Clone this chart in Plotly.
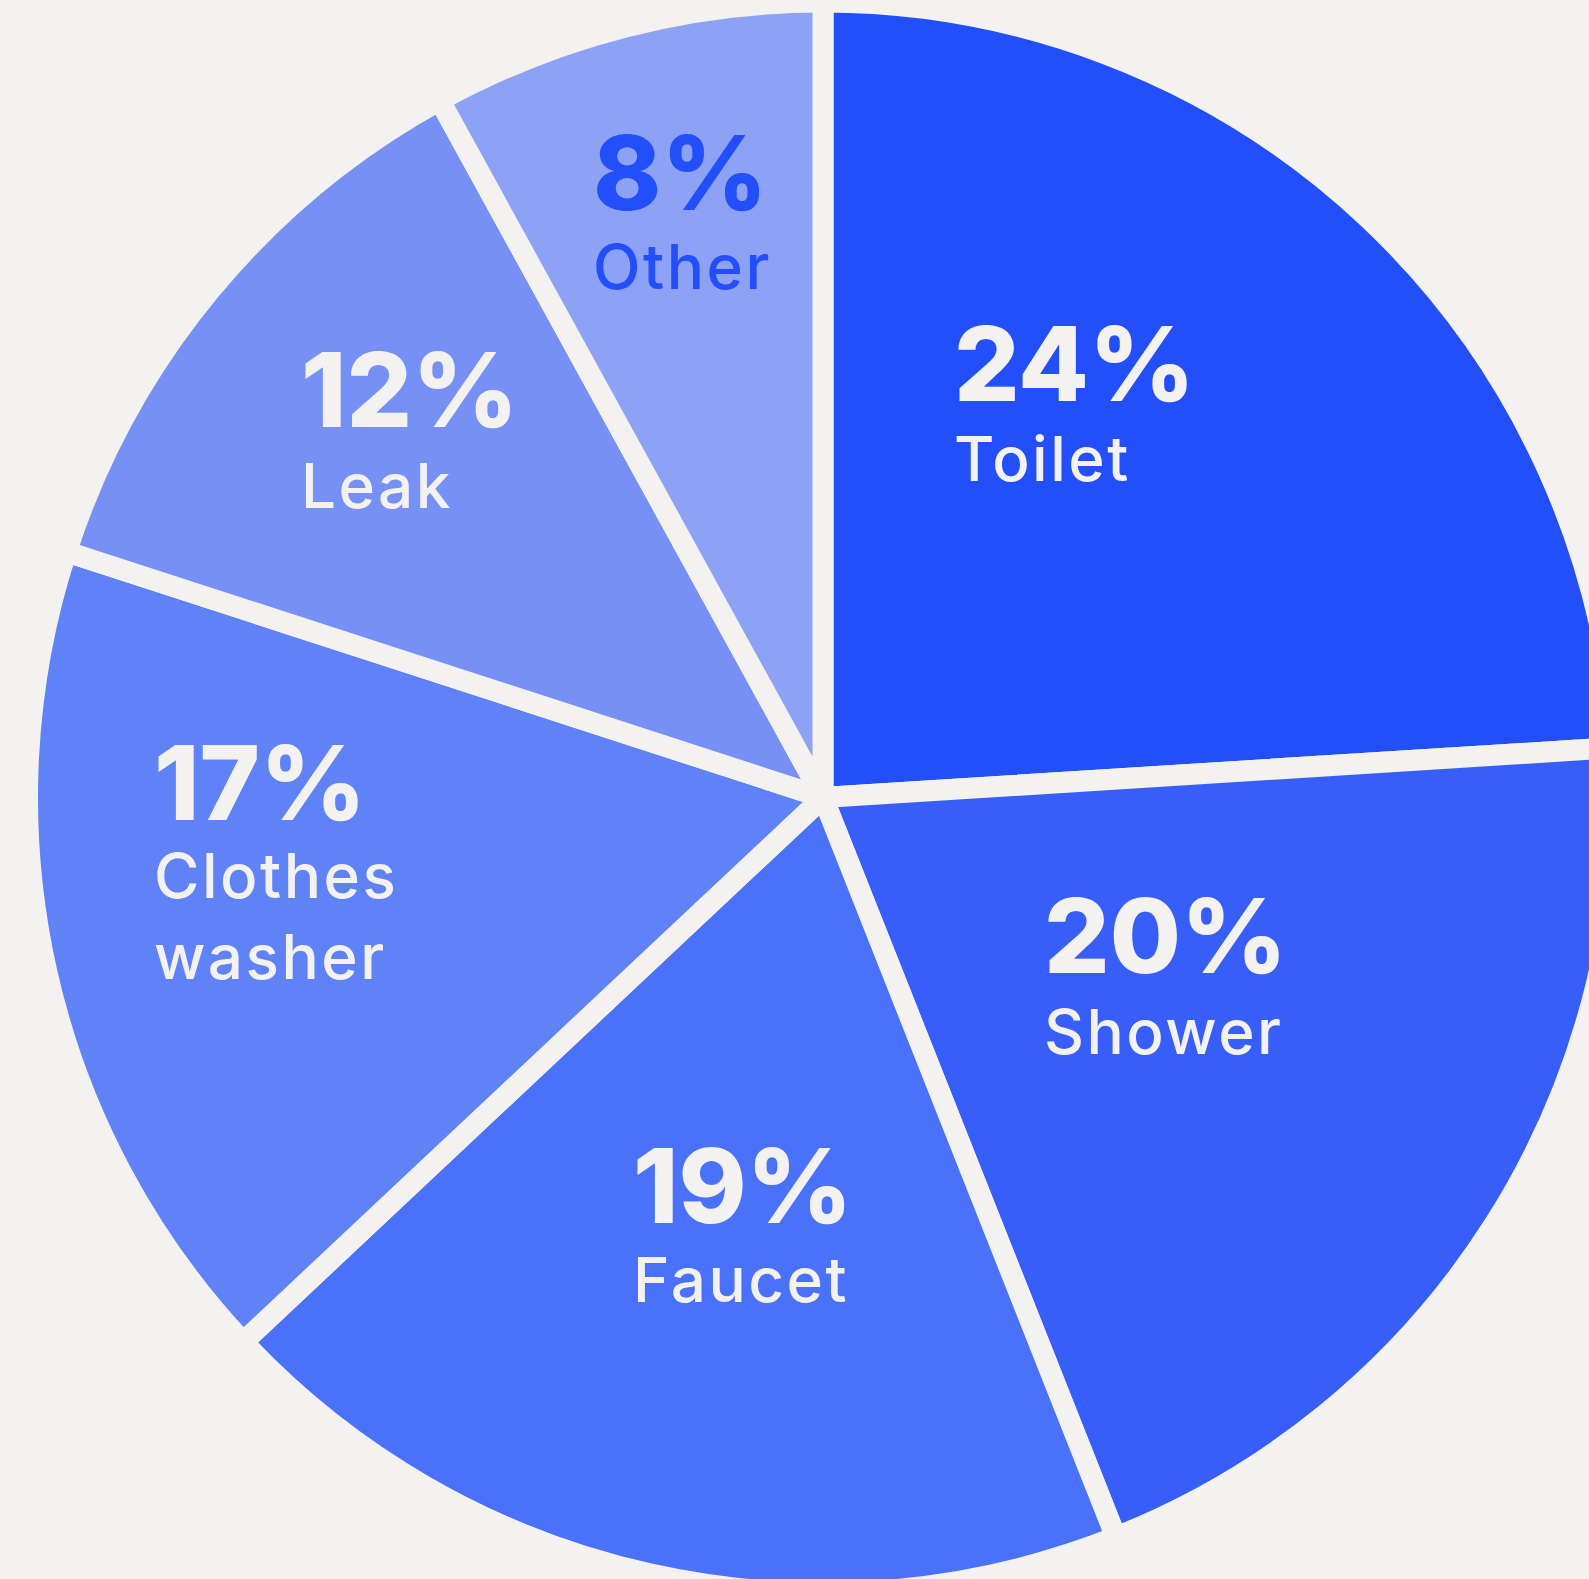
import plotly.graph_objects as go

# ---- data ----
categories = ["Toilet", "Shower", "Faucet", "Clothes washer", "Leak", "Other"]
values = [24, 20, 19, 17, 12, 8]
label_text = ["Toilet", "Shower", "Faucet", "Clothes<br>washer", "Leak", "Other"]

# ---- styles ----
slice_colors = ["#234FFB", "#375EF9", "#4A71F9", "#5F82F7", "#7790F5", "#8DA2F4"]
text_colors = ["#F3F2F0", "#F3F2F0", "#F3F2F0", "#F3F2F0", "#F3F2F0", "#234FFB"]
BG = "#F3F2F0"

# figure is larger than the viewport so the pie is clipped like the original
W, H = 1680, 1620
cx, cy = 823, 797.5        # pie centre in px (from top-left)
gap = 21                   # white gap between slices
r_path = 785 + gap / 2     # radius of the slice path

# label anchor positions (px): left x, number cap-middle y, label cap-middle y
label_pos = [
    (952, 363, 458.5),
    (1042, 935, 1031),
    (631, 1185, 1279.5),
    (152, 782, 874),
    (299, 390, 485),
    (591, 172.5, 266),
]

fig = go.Figure(
    go.Pie(
        labels=categories,
        values=values,
        sort=False,
        direction="clockwise",
        rotation=0,
        textinfo="none",
        hoverinfo="label+percent",
        marker=dict(colors=slice_colors, line=dict(color=BG, width=gap)),
        domain=dict(
            x=[(cx - r_path) / W, (cx + r_path) / W],
            y=[(H - (cy + r_path)) / H, (H - (cy - r_path)) / H],
        ),
        showlegend=False,
    )
)

annotations = []
for v, lab, col, (lx, ny, ly) in zip(values, label_text, text_colors, label_pos):
    annotations.append(dict(
        x=lx / W, y=1 - ny / H, xref="paper", yref="paper",
        xanchor="left", yanchor="middle", showarrow=False, align="left",
        text=f"{v}%",
        font=dict(family="Inter", size=103, color=col, weight=800),
    ))
    nlines = lab.count("<br>") + 1
    styled = "<br>".join(
        f"<span style='letter-spacing:2.5px'>{part}</span>" for part in lab.split("<br>")
    )
    annotations.append(dict(
        x=lx / W, y=1 - (ly - 0.605 * 62) / H if nlines > 1 else 1 - ly / H,
        xref="paper", yref="paper",
        xanchor="left", yanchor="top" if nlines > 1 else "middle",
        showarrow=False, align="left",
        text=styled,
        font=dict(family="Inter", size=62, color=col, weight=500),
    ))

fig.update_layout(
    width=W, height=H,
    margin=dict(l=0, r=0, t=0, b=0),
    paper_bgcolor=BG, plot_bgcolor=BG,
    annotations=annotations,
)

fig.write_html(
    "out.html",
    config={"displayModeBar": False},
    post_script="document.documentElement.style.overflow='hidden';document.body.style.overflow='hidden';document.body.style.margin='0';",
)
